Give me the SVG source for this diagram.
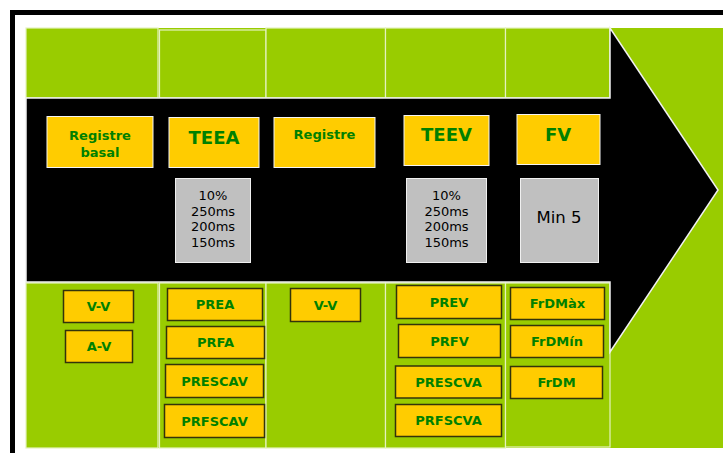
<svg xmlns="http://www.w3.org/2000/svg" width="723" height="453" viewBox="0 0 723 453">
<style>
.cell{fill:#99CC00;stroke:#E4F2BE;stroke-width:1.2}
.hd{fill:#FFCC00;stroke:#F4F4F4;stroke-width:1}
.gr{fill:#C0C0C0;stroke:#F0F0F0;stroke-width:1}
.bx{fill:#FFCC00;stroke:#33330A;stroke-width:1.5}
.t{font-family:"DejaVu Sans",Verdana,sans-serif;font-weight:bold;fill:#008000;text-anchor:middle}
.s13{font-size:13px}
.s18{font-size:18px}
.g{font-family:"DejaVu Sans",Tahoma,sans-serif;font-size:13px;fill:#000;text-anchor:middle}
</style>
<rect x="0" y="0" width="723" height="453" fill="#FFFFFF"/>
<rect x="12.5" y="12.5" width="730" height="460" fill="none" stroke="#000" stroke-width="5"/>
<rect x="26" y="28" width="697" height="420" fill="#99CC00"/>
<g id="cells">
<rect class="cell" x="26" y="28" width="132" height="70"/>
<rect class="cell" x="159.5" y="30" width="106.5" height="68"/>
<rect class="cell" x="266" y="28" width="119.5" height="70"/>
<rect class="cell" x="385.5" y="28" width="120" height="70"/>
<rect class="cell" x="505.5" y="28" width="104.5" height="70"/>
<rect class="cell" x="26" y="283" width="132" height="165"/>
<rect class="cell" x="159.5" y="283" width="106.5" height="165"/>
<rect class="cell" x="266" y="283" width="119.5" height="165"/>
<rect class="cell" x="385.5" y="283" width="120" height="165"/>
<rect class="cell" x="505.5" y="283" width="104.5" height="164"/>
</g>
<g id="connectors">
<polygon id="arrow" points="26,98 610,98 610,28 718,190 610,352 610,282 26,282" fill="#000" stroke="#F0F0F0" stroke-width="1.5"/>
</g>
<g id="n-registre-basal"><rect class="hd" x="47" y="116.5" width="106" height="51"/><text class="t s13" x="100" y="140">Registre</text><text class="t s13" x="100" y="157">basal</text></g>
<g id="n-teea"><rect class="hd" x="169" y="117.5" width="90" height="50"/><text class="t s18" x="214" y="144">TEEA</text></g>
<g id="n-registre"><rect class="hd" x="274" y="117.5" width="101" height="50"/><text class="t s13" x="324.5" y="139">Registre</text></g>
<g id="n-teev"><rect class="hd" x="404" y="115.5" width="85" height="50"/><text class="t s18" x="446.5" y="141">TEEV</text></g>
<g id="n-fv"><rect class="hd" x="517" y="114.5" width="83" height="50"/><text class="t s18" x="558" y="141">FV</text></g>
<g id="n-teea-vals"><rect class="gr" x="175.5" y="178.5" width="75" height="84"/><text class="g" x="213" y="200">10%</text><text class="g" x="213" y="215.5">250ms</text><text class="g" x="213" y="231">200ms</text><text class="g" x="213" y="246.5">150ms</text></g>
<g id="n-teev-vals"><rect class="gr" x="406.5" y="178.5" width="80" height="84"/><text class="g" x="446.5" y="200">10%</text><text class="g" x="446.5" y="215.5">250ms</text><text class="g" x="446.5" y="231">200ms</text><text class="g" x="446.5" y="246.5">150ms</text></g>
<g id="n-min5"><rect class="gr" x="520.5" y="178.5" width="78" height="84"/><text class="g" x="559" y="223" style="font-size:16.5px">Min 5</text></g>
<g id="n-vv1"><rect class="bx" x="63.5" y="290.5" width="70" height="32"/><text class="t s13" x="98.5" y="311">V-V</text></g>
<g id="n-av"><rect class="bx" x="65.5" y="330.5" width="67" height="32"/><text class="t s13" x="99" y="351">A-V</text></g>
<g id="n-prea"><rect class="bx" x="167.5" y="288.5" width="95" height="32"/><text class="t s13" x="215" y="309">PREA</text></g>
<g id="n-prfa"><rect class="bx" x="166.5" y="326.5" width="98" height="32"/><text class="t s13" x="215.5" y="347">PRFA</text></g>
<g id="n-prescav"><rect class="bx" x="165.5" y="364.5" width="98" height="33"/><text class="t s13" x="214.5" y="385.5">PRESCAV</text></g>
<g id="n-prfscav"><rect class="bx" x="164.5" y="404.5" width="100" height="33"/><text class="t s13" x="214.5" y="425.5">PRFSCAV</text></g>
<g id="n-vv2"><rect class="bx" x="290.5" y="288.5" width="70" height="33"/><text class="t s13" x="325.5" y="309.5">V-V</text></g>
<g id="n-prev"><rect class="bx" x="396.5" y="285.5" width="105" height="33"/><text class="t s13" x="449" y="306.5">PREV</text></g>
<g id="n-prfv"><rect class="bx" x="398.5" y="324.5" width="102" height="33"/><text class="t s13" x="449.5" y="345.5">PRFV</text></g>
<g id="n-prescva"><rect class="bx" x="395.5" y="366" width="106" height="32"/><text class="t s13" x="448.5" y="386.5">PRESCVA</text></g>
<g id="n-prfscva"><rect class="bx" x="395.5" y="404.5" width="106" height="32"/><text class="t s13" x="448.5" y="425">PRFSCVA</text></g>
<g id="n-frdmax"><rect class="bx" x="510.5" y="287.5" width="94" height="32"/><text class="t s13" x="557.5" y="308">FrDMàx</text></g>
<g id="n-frdmin"><rect class="bx" x="510.5" y="325.5" width="93" height="32"/><text class="t s13" x="557" y="346">FrDMín</text></g>
<g id="n-frdm"><rect class="bx" x="510.5" y="366.5" width="92" height="32"/><text class="t s13" x="556.5" y="387">FrDM</text></g>
</svg>
